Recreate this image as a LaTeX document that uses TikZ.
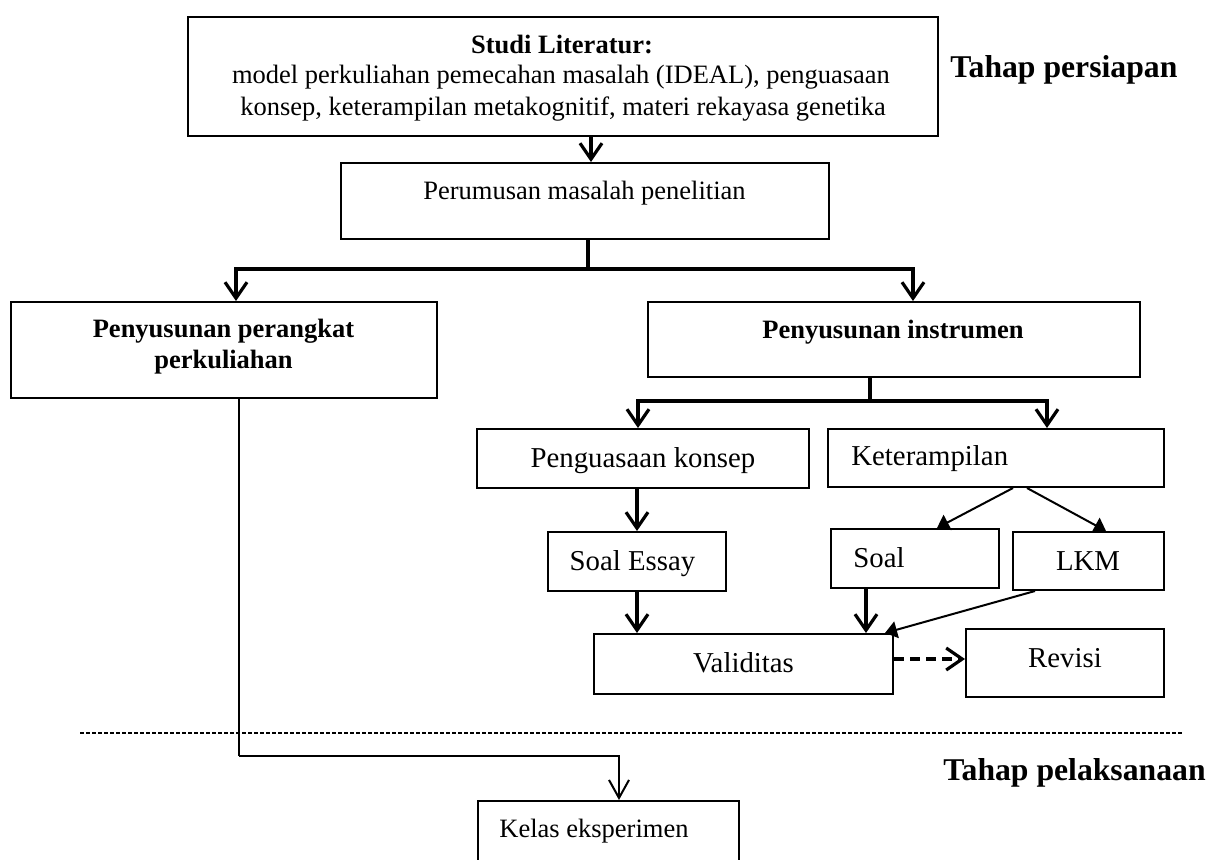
\documentclass[tikz,border=0pt]{standalone}
\usepackage{fontspec}
\setmainfont{Liberation Serif}
\usetikzlibrary{arrows.meta}
\begin{document}
\begin{tikzpicture}[x=0.5pt,y=-0.5pt,
  box/.style={draw, line width=1pt, rectangle, inner sep=0pt},
  conn/.style={line width=1.6pt},
  arr/.style={line width=1.6pt, -{Straight Barb[length=8pt,width=11pt]}},
  thinarr/.style={line width=1pt, -{Straight Barb[length=9pt,width=10pt]}},
  tri/.style={line width=1pt, -{Triangle[length=6pt,width=8.5pt]}},
  fs/.style={font=\fontsize{13.25pt}{15.5pt}\selectfont},
  fsb/.style={font=\fontsize{13.25pt}{15.5pt}\selectfont\bfseries},
  fm/.style={font=\fontsize{14.4pt}{17pt}\selectfont},
  fl/.style={font=\fontsize{15.85pt}{19pt}\selectfont\bfseries},
  lbl/.style={anchor=base, inner sep=0pt},
  lbll/.style={anchor=base west, inner sep=0pt},
]
\clip (0,0) rectangle (1211,859);
\fill[white] (0,0) rectangle (1211,859);

% boxes
\node[box, minimum width=375pt, minimum height=59.5pt] (studi) at (563,76.5) {};
\node[box, minimum width=244pt, minimum height=38pt] (perum) at (585,201) {};
\node[box, minimum width=213pt, minimum height=48pt] (perangkat) at (224,350) {};
\node[box, minimum width=246pt, minimum height=37.5pt] (instrumen) at (894,339.5) {};
\node[box, minimum width=166pt, minimum height=29.5pt] (konsep) at (643,458.5) {};
\node[box, minimum width=168pt, minimum height=29pt] (ketr) at (996,458) {};
\node[box, minimum width=89pt, minimum height=29.5pt] (essay) at (637,561.5) {};
\node[box, minimum width=84pt, minimum height=29.5pt] (soal) at (915,558.5) {};
\node[box, minimum width=75.5pt, minimum height=29pt] (lkm) at (1088.5,561) {};
\node[box, minimum width=149.5pt, minimum height=30pt] (valid) at (743.5,664) {};
\node[box, minimum width=99pt, minimum height=34pt] (revisi) at (1065,663) {};
\node[box, minimum width=130.5pt, minimum height=35pt] (kelas) at (608.5,836) {};

% texts
\node[lbl, fsb] (t1) at (562,53) {Studi Literatur:};
\node[lbl, fs] (t2) at (561,83) {model perkuliahan pemecahan masalah (IDEAL), penguasaan};
\node[lbl, fs] (t3) at (563,115) {konsep, keterampilan metakognitif, materi rekayasa genetika};
\node[lbl, fs] (t4) at (584.5,199) {Perumusan masalah penelitian};
\node[lbl, fsb] (t5) at (223.5,337) {Penyusunan perangkat};
\node[lbl, fsb] (t6) at (223.5,368) {perkuliahan};
\node[lbl, fsb] (t7) at (893,338) {Penyusunan instrumen};
\node[lbl, fm] (t8) at (643,467) {Penguasaan konsep};
\node[lbll, fm] (t9) at (851,465) {Keterampilan};
\node[lbl, fm] (t10) at (632.5,570) {Soal Essay};
\node[lbll, fm] (t11) at (853,567) {Soal};
\node[lbl, fm] (t12) at (1088,570) {LKM};
\node[lbl, fm] (t13) at (743.5,672) {Validitas};
\node[lbl, fm] (t14) at (1065,667) {Revisi};
\node[lbll, fs] (t15) at (499,837) {Kelas eksperimen};
\node[lbll, fl] (t16) at (950,77) {Tahap persiapan};
\node[lbll, fl] (t17) at (943,780) {Tahap pelaksanaan};

% connectors
\draw[arr] (studi.south -| 591,0) -- (perum.north -| 591,0);
\coordinate (j1) at (588,269);
\draw[conn] (perum.south -| j1) -- (j1);
\draw[arr] (j1) -| (perangkat.north -| 236,0);
\draw[arr] (j1) -| (instrumen.north -| 913,0);

\coordinate (j2) at (870,401);
\draw[conn] (instrumen.south -| j2) -- (j2);
\draw[arr] (j2) -| (konsep.north -| 638,0);
\draw[arr] (j2) -| (ketr.north -| 1047,0);

\draw[arr] (konsep.south -| 637,0) -- (essay.north -| 637,0);
\draw[tri] (ketr.south -| 1013,0) -- (soal.north -| 937,0);
\draw[tri] (ketr.south -| 1027,0) -- (1106,531);
\draw[arr] (essay.south -| 637,0) -- (valid.north -| 637,0);
\draw[arr] (soal.south -| 866,0) -- (valid.north -| 866,0);
\draw[tri] (lkm.south -| 1035,0) -- (885,633);
\draw[arr, dash pattern=on 5pt off 3pt] (valid.east |- 0,659) -- (revisi.west |- 0,659);

\draw[line width=0.7pt, dash pattern=on 2pt off 1pt] (80,733) -- (1182,733);

\coordinate (j3) at (239,756);
\draw[line width=1pt] (perangkat.south -| j3) -- (j3);
\draw[thinarr] (j3) -| (kelas.north -| 619,0);
\end{tikzpicture}
\end{document}
